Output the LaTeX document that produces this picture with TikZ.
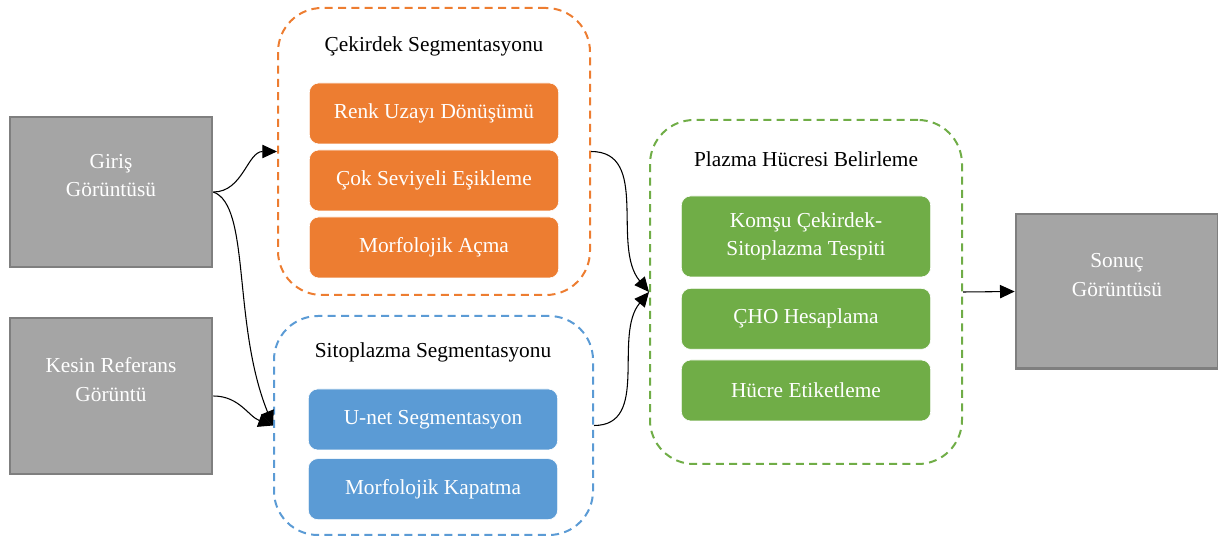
\documentclass[tikz,border=0pt]{standalone}
\usepackage{fontspec}
\setmainfont{Liberation Serif}
\usetikzlibrary{positioning,arrows.meta}

\definecolor{imggray}{HTML}{A5A5A5}
\definecolor{imgborder}{HTML}{7F7F7F}
\definecolor{segorange}{HTML}{ED7D31}
\definecolor{segblue}{HTML}{5B9BD5}
\definecolor{seggreen}{HTML}{70AD47}

\begin{document}
\begin{tikzpicture}[x=0.75pt, y=-0.75pt, font=\fontsize{16}{21.5}\selectfont,
  img/.style={draw=imgborder, line width=2pt, fill=imggray, text=white, align=center, minimum width=151.5pt, text depth=25pt},
  grp/.style={draw=#1, dash pattern=on 6pt off 4pt, line width=1.5pt, rounded corners=33pt},
  stepbox/.style={fill=#1, draw=white, line width=0.5pt, text=white, rounded corners=7pt, align=center, minimum width=187pt, minimum height=45.75pt},
  arr/.style={line width=0.8pt, -{Triangle[length=11pt, width=10pt]}}]
\useasboundingbox (0,0) rectangle (1218,541);

% input and output images
\node[img, minimum height=112.5pt] (giris) at (111,192) {Giriş\\Görüntüsü};
\node[img, minimum height=117pt] (kesin) at (111,396) {Kesin Referans\\Görüntü};
\node[img, minimum height=116pt] (sonuc) at (1117,291.5) {Sonuç\\Görüntüsü};

% groups
\node[grp=segorange, minimum width=234pt, minimum height=215.25pt] (cekirdek) at (434,151.5) {};
\node[grp=segblue, minimum width=239.25pt, minimum height=164.25pt] (sitoplazma) at (433.5,425.5) {};
\node[grp=seggreen, minimum width=234pt, minimum height=258pt] (plazma) at (806,292) {};
\node (cekirdekt) at (434,46) {Çekirdek Segmentasyonu};
\node (sitoplazmat) at (433,352) {Sitoplazma Segmentasyonu};
\node (plazmat) at (806,159) {Plazma Hücresi Belirleme};

% nucleus steps
\node[stepbox=segorange] (renk) at (434,113.5) {Renk Uzayı Dönüşümü};
\node[stepbox=segorange, below=4pt of renk] (esik) {Çok Seviyeli Eşikleme};
\node[stepbox=segorange, below=4pt of esik] (acma) {Morfolojik Açma};

% cytoplasm steps
\node[stepbox=segblue] (unet) at (433,419.5) {U-net Segmentasyon};
\node[stepbox=segblue, below=6pt of unet] (kapatma) {Morfolojik Kapatma};

% plasma cell steps
\node[stepbox=seggreen, minimum height=60.75pt] (komsu) at (806,236.5) {Komşu Çekirdek-\\Sitoplazma Tespiti};
\node[stepbox=seggreen, below=8pt of komsu] (cho) {ÇHO Hesaplama};
\node[stepbox=seggreen, below=7.5pt of cho] (etiket) {Hücre Etiketleme};

\draw[arr] (giris.east) to[out=0, in=180] (cekirdek.west);
\draw[arr] (giris.east) to[out=-20, in=112, out distance=30pt, in distance=82pt] (sitoplazma.west);
\draw[arr] (kesin.east) to[out=0, in=160] (sitoplazma.west);
\draw[arr] (cekirdek.east) to[out=0, in=130] (plazma.west);
\draw[arr] (sitoplazma.east) to[out=0, in=-130] (plazma.west);
\draw[arr] (plazma.east) -- (sonuc.west);
\end{tikzpicture}
\end{document}
